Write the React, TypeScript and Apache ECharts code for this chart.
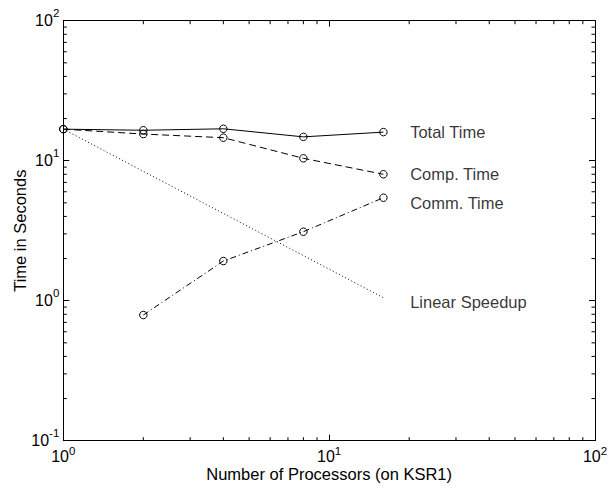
import React, { useEffect, useRef } from "react";
import * as echarts from "echarts";

const procs = [1, 2, 4, 8, 16];
const totalTime = [16.8, 16.5, 16.9, 14.8, 16.0];
const compTime = [16.8, 15.5, 14.6, 10.4, 8.0];
const commProcs = [2, 4, 8, 16];
const commTime = [0.79, 1.92, 3.11, 5.44];
const linearProcs = [1, 16];
const linearSpeedup = [16.8, 1.05];

const annotationNames = ["Total Time", "Comp. Time", "Comm. Time", "Linear Speedup"];
const annotationX = [20, 20, 20, 20];
const annotationY = [16.0, 8.04, 4.96, 0.984];

const xMinorTicks = [2, 3, 4, 5, 6, 7, 8, 9, 20, 30, 40, 50, 60, 70, 80, 90];
const yMinorTicks = [0.2, 0.3, 0.4, 0.5, 0.6, 0.7, 0.8, 0.9, 2, 3, 4, 5, 6, 7, 8, 9, 20, 30, 40, 50, 60, 70, 80, 90];

const FONT = "Liberation Sans, Arial, Helvetica, sans-serif";

export default function App() {
  const ref = useRef<HTMLDivElement>(null);
  useEffect(() => {
    if (!ref.current) return;
    const chart = echarts.init(ref.current, null, { renderer: "svg" });
    const expFmt = (v: number) => {
      const e = Math.round(Math.log10(v));
      return `{b|10}{s|${e}}`;
    };
    // y axis: base centred on the tick, exponent raised
    const richY = {
      b: { fontSize: 16, lineHeight: 16, fontFamily: FONT, color: "#000" },
      s: { fontSize: 11.5, lineHeight: 11.5, fontFamily: FONT, color: "#000", padding: [0, 0, 16, 0] },
    };
    // x axis: compact box (base pushed down, exponent at top)
    const richX = {
      b: { fontSize: 16, lineHeight: 16, fontFamily: FONT, color: "#000", padding: [6, 0, 0, 0] },
      s: { fontSize: 11.5, lineHeight: 11.5, fontFamily: FONT, color: "#000", verticalAlign: "top" },
    };
    const lineCommon = { color: "#000", width: 1 };
    const circleItem = { color: "rgba(0,0,0,0)", borderColor: "#000", borderWidth: 1 };
    const minorData: number[][] = [
      ...xMinorTicks.map((v) => [v, 1, 0]),
      ...yMinorTicks.map((v) => [1, v, 1]),
    ];
    const option: any = {
      animation: false,
      textStyle: { fontFamily: FONT, color: "#000" },
      grid: {
        left: 63.3,
        top: 20.7,
        right: 15,
        bottom: 54.3,
        containLabel: false,
        outerBoundsMode: "none",
      },
      xAxis: [
        {
          type: "log",
          logBase: 10,
          min: 1,
          max: 100,
          interval: 1,
          position: "bottom",
          name: "Number of Processors (on KSR1)",
          nameLocation: "middle",
          nameGap: 27,
          nameMoveOverlap: false,
          nameTextStyle: { fontSize: 16.5, lineHeight: 13, fontFamily: FONT, color: "#000" },
          axisLine: { show: true, lineStyle: lineCommon },
          axisTick: { show: true, inside: true, length: 6, lineStyle: lineCommon },
          axisLabel: {
            formatter: expFmt,
            rich: richX,
            margin: 4.5,
            fontSize: 16,
            color: "#000",
            fontFamily: FONT,
            showMinLabel: true,
            showMaxLabel: true,
            hideOverlap: false,
          },
          splitLine: { show: false },
          minorTick: { show: false },
        },
        {
          type: "log",
          logBase: 10,
          min: 1,
          max: 100,
          interval: 1,
          position: "top",
          axisLine: { show: true, lineStyle: lineCommon },
          axisTick: { show: true, inside: true, length: 6, lineStyle: lineCommon },
          axisLabel: { show: false },
          splitLine: { show: false },
        },
      ],
      yAxis: [
        {
          type: "log",
          logBase: 10,
          min: 0.1,
          max: 100,
          interval: 1,
          position: "left",
          name: "Time in Seconds",
          nameLocation: "middle",
          nameRotate: 90,
          nameGap: 35,
          nameMoveOverlap: false,
          nameTextStyle: { fontSize: 16.5, fontFamily: FONT, color: "#000" },
          axisLine: { show: true, lineStyle: lineCommon },
          axisTick: { show: true, inside: true, length: 6, lineStyle: lineCommon },
          axisLabel: {
            formatter: expFmt,
            rich: richY,
            margin: 4,
            fontSize: 16,
            color: "#000",
            fontFamily: FONT,
            showMinLabel: true,
            showMaxLabel: true,
            hideOverlap: false,
          },
          splitLine: { show: false },
        },
        {
          type: "log",
          logBase: 10,
          min: 0.1,
          max: 100,
          interval: 1,
          position: "right",
          axisLine: { show: true, lineStyle: lineCommon },
          axisTick: { show: true, inside: true, length: 6, lineStyle: lineCommon },
          axisLabel: { show: false },
          splitLine: { show: false },
        },
      ],
      series: [
        {
          name: "Total Time",
          type: "line",
          data: procs.map((p, i) => [p, totalTime[i]]),
          lineStyle: { color: "#000", width: 1, type: "solid" },
          symbol: "circle",
          symbolSize: 7.5,
          itemStyle: circleItem,
        },
        {
          name: "Comp. Time",
          type: "line",
          data: procs.map((p, i) => [p, compTime[i]]),
          lineStyle: { color: "#000", width: 1, type: [7, 4] },
          symbol: "circle",
          symbolSize: 7.5,
          itemStyle: circleItem,
        },
        {
          name: "Comm. Time",
          type: "line",
          data: commProcs.map((p, i) => [p, commTime[i]]),
          lineStyle: { color: "#000", width: 1, type: [6, 3, 1, 3] },
          symbol: "circle",
          symbolSize: 7.5,
          itemStyle: circleItem,
        },
        {
          name: "Linear Speedup",
          type: "line",
          data: linearProcs.map((p, i) => [p, linearSpeedup[i]]),
          lineStyle: { color: "#000", width: 1, type: [1, 2.5] },
          symbol: "none",
        },
        {
          name: "annotations",
          type: "scatter",
          symbolSize: 0,
          data: annotationNames.map((n, i) => ({ name: n, value: [annotationX[i], annotationY[i]] })),
          label: {
            show: true,
            position: "right",
            distance: 1,
            formatter: (p: any) => p.name,
            fontSize: 16.5,
            fontFamily: FONT,
            color: "#000",
          },
          silent: true,
        },
        {
          name: "minorTicks",
          type: "custom",
          data: minorData,
          encode: { x: 0, y: 1 },
          silent: true,
          renderItem: (params: any, api: any) => {
            const cs = params.coordSys;
            const kind = api.value(2);
            const L = 3.5;
            if (kind === 0) {
              const px = api.coord([api.value(0), 1])[0];
              return {
                type: "group",
                children: [
                  { type: "line", shape: { x1: px, y1: cs.y + cs.height, x2: px, y2: cs.y + cs.height - L }, style: { stroke: "#000", lineWidth: 1 } },
                  { type: "line", shape: { x1: px, y1: cs.y, x2: px, y2: cs.y + L }, style: { stroke: "#000", lineWidth: 1 } },
                ],
              };
            }
            const py = api.coord([1, api.value(1)])[1];
            return {
              type: "group",
              children: [
                { type: "line", shape: { x1: cs.x, y1: py, x2: cs.x + L, y2: py }, style: { stroke: "#000", lineWidth: 1 } },
                { type: "line", shape: { x1: cs.x + cs.width, y1: py, x2: cs.x + cs.width - L, y2: py }, style: { stroke: "#000", lineWidth: 1 } },
              ],
            };
          },
        },
      ],
    };
    chart.setOption(option);
    return () => chart.dispose();
  }, []);
  return (
    <div
      ref={ref}
      style={{ position: "absolute", left: 0, top: 0, width: 610, height: 495, background: "#fff" }}
    />
  );
}
